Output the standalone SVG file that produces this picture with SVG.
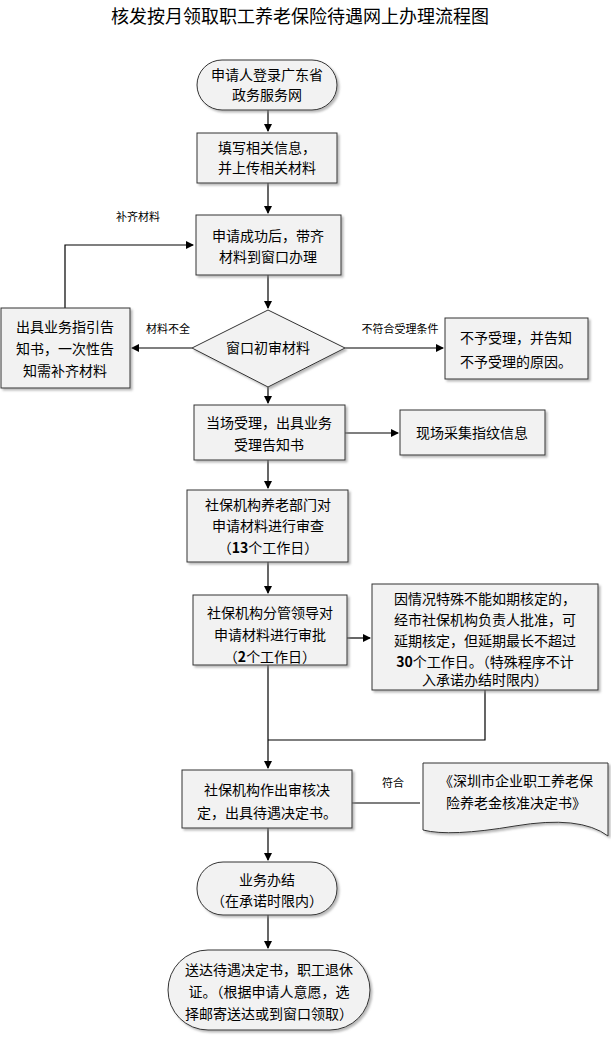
<svg xmlns="http://www.w3.org/2000/svg" width="611" height="1041" viewBox="0 0 611 1041">
<style>
text{font-family:"Noto Sans CJK SC","Liberation Sans",sans-serif;fill:#000;text-anchor:middle}
.t{font-size:14px}
.s{font-size:11px}
.n{fill:#f2f2f2;stroke:#333;stroke-width:1;filter:url(#sh)}
.c{fill:none;stroke:#000;stroke-width:1.2}
</style>
<defs>
<marker id="a" markerWidth="8" markerHeight="8" refX="7" refY="4" orient="auto" markerUnits="userSpaceOnUse"><path d="M0,0L8,4L0,8z" fill="#000"/></marker>
<filter id="sh" x="-10%" y="-10%" width="130%" height="130%"><feDropShadow dx="2" dy="2" stdDeviation="1" flood-color="#888" flood-opacity="0.6"/></filter>
</defs>
<rect width="611" height="1041" fill="#fff"/>
<text x="300" y="23" style="font-size:18px">核发按月领取职工养老保险待遇网上办理流程图</text>
<g id="connectors">
<path class="c" d="M268,110V131" marker-end="url(#a)"/>
<path class="c" d="M268,183V213" marker-end="url(#a)"/>
<path class="c" d="M268,275V308" marker-end="url(#a)"/>
<path class="c" d="M192,348H132" marker-end="url(#a)"/>
<path class="c" d="M345,348H443" marker-end="url(#a)"/>
<path class="c" d="M65,308V245H193" marker-end="url(#a)"/>
<path class="c" d="M268,387V403" marker-end="url(#a)"/>
<path class="c" d="M345,433H398" marker-end="url(#a)"/>
<path class="c" d="M268,460V488" marker-end="url(#a)"/>
<path class="c" d="M268,562V593" marker-end="url(#a)"/>
<path class="c" d="M347,638H370" marker-end="url(#a)"/>
<path class="c" d="M268,665V768" marker-end="url(#a)"/>
<path class="c" d="M485,690V740H268"/>
<path class="c" d="M352,803H420"/>
<path class="c" d="M268,828V860" marker-end="url(#a)"/>
<path class="c" d="M268,915V948" marker-end="url(#a)"/>
<text class="s" x="138" y="221">补齐材料</text>
<text class="s" x="168" y="333">材料不全</text>
<text class="s" x="400" y="333">不符合受理条件</text>
<text class="s" x="393" y="787">符合</text>
</g>
<g id="n1"><rect class="n" x="197" y="60" width="140" height="50" rx="25"/><text class="t" x="267" y="80">申请人登录广东省</text><text class="t" x="267" y="100">政务服务网</text></g>
<g id="n2"><rect class="n" x="197" y="133" width="140" height="50"/><text class="t" x="267" y="153">填写相关信息，</text><text class="t" x="267" y="173">并上传相关材料</text></g>
<g id="n3"><rect class="n" x="196" y="215" width="145" height="60"/><text class="t" x="268" y="241">申请成功后，带齐</text><text class="t" x="268" y="262">材料到窗口办理</text></g>
<g id="n4"><path class="n" d="M268,310L345,348L268,387L192,348z"/><text class="t" x="268" y="353">窗口初审材料</text></g>
<g id="n5"><rect class="n" x="1" y="308" width="129" height="80"/><text class="t" x="65" y="332">出具业务指引告</text><text class="t" x="65" y="354">知书，一次性告</text><text class="t" x="65" y="376">知需补齐材料</text></g>
<g id="n6"><rect class="n" x="445" y="318" width="143" height="61"/><text class="t" x="516" y="343">不予受理，并告知</text><text class="t" x="516" y="367">不予受理的原因。</text></g>
<g id="n7"><rect class="n" x="194" y="405" width="151" height="55"/><text class="t" x="269" y="428">当场受理，出具业务</text><text class="t" x="269" y="450">受理告知书</text></g>
<g id="n8"><rect class="n" x="400" y="410" width="145" height="45"/><text class="t" x="472" y="438">现场采集指纹信息</text></g>
<g id="n9"><rect class="n" x="187" y="490" width="161" height="72"/><text class="t" x="268" y="510">社保机构养老部门对</text><text class="t" x="268" y="531">申请材料进行审查</text><text class="t" x="268" y="553">（<tspan font-weight="bold">13</tspan>个工作日）</text></g>
<g id="n10"><rect class="n" x="193" y="595" width="154" height="70"/><text class="t" x="270" y="618">社保机构分管领导对</text><text class="t" x="270" y="640">申请材料进行审批</text><text class="t" x="270" y="662">（<tspan font-weight="bold">2</tspan>个工作日）</text></g>
<g id="n11"><rect class="n" x="372" y="584" width="226" height="106"/><text class="t" x="485" y="604">因情况特殊不能如期核定的，</text><text class="t" x="485" y="625">经市社保机构负责人批准，可</text><text class="t" x="485" y="646">延期核定，但延期最长不超过</text><text class="t" x="485" y="667"><tspan font-weight="bold">30</tspan>个工作日。（特殊程序不计</text><text class="t" x="485" y="685">入承诺办结时限内）</text></g>
<g id="n12"><rect class="n" x="182" y="770" width="170" height="58"/><text class="t" x="267" y="795">社保机构作出审核决</text><text class="t" x="267" y="818">定，出具待遇决定书。</text></g>
<g id="n13"><path class="n" d="M423,763H608V836Q580,815 515,826T423,830z"/><text class="t" x="516" y="786">《深圳市企业职工养老保</text><text class="t" x="516" y="808">险养老金核准决定书》</text></g>
<g id="n14"><rect class="n" x="197" y="862" width="140" height="53" rx="26"/><text class="t" x="267" y="885">业务办结</text><text class="t" x="267" y="906">（在承诺时限内）</text></g>
<g id="n15"><rect class="n" x="168" y="950" width="202" height="80" rx="40"/><text class="t" x="269" y="975">送达待遇决定书，职工退休</text><text class="t" x="269" y="997">证。（根据申请人意愿，选</text><text class="t" x="269" y="1019">择邮寄送达或到窗口领取）</text></g>
</svg>
